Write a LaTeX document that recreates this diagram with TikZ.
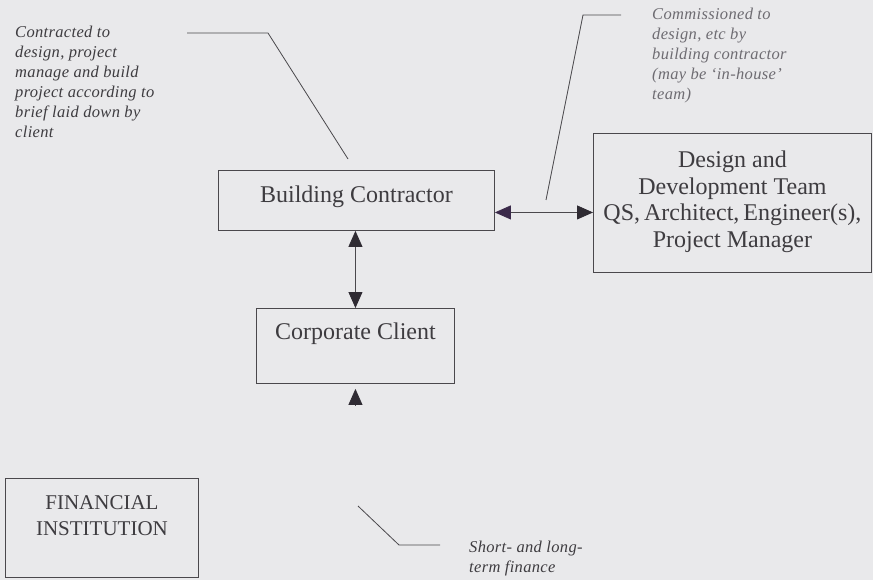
\documentclass[tikz,border=0pt]{standalone}
\usepackage{fontspec}
\setmainfont{Liberation Serif}
\newfontfamily\notefont{Liberation Serif}[LetterSpace=2]
\usetikzlibrary{arrows.meta}

\definecolor{paper}{HTML}{E9E9EB}
\definecolor{ink}{HTML}{3E3C40}
\definecolor{rule}{HTML}{4A484C}
\definecolor{soft}{HTML}{6E6C72}
\definecolor{tipdark}{HTML}{2F2B33}
\definecolor{tipviolet}{HTML}{3B2A4A}

\begin{document}
\begin{tikzpicture}[x=1pt,y=-1pt,
  box/.style={draw=rule, line width=0.9pt, inner sep=0pt, anchor=north west,
    text=ink, font=\fontsize{24}{26.7}\selectfont},
  note/.style={anchor=base west, inner sep=0pt, text=ink,
    font=\notefont\itshape\fontsize{16.5}{20}\selectfont},
  leader/.style={draw=rule, line width=0.8pt},
  link/.style={draw=rule, line width=0.8pt, {Triangle[length=16pt,width=14pt,color=#1]}-{Triangle[length=16pt,width=14pt,color=tipdark]}},
  link/.default=tipdark,
  headonly/.style={draw=rule, line width=0.8pt, -{Triangle[length=16pt,width=14pt,color=tipdark]}},
]
% page
\fill[paper] (0,0) rectangle (873,580);
\useasboundingbox (0,0) rectangle (873,580);

% boxes
\node[box, minimum width=276pt, text height=32pt, text depth=28pt] (bc) at (218,170)
  {Building Contractor};
\node[box, minimum width=278pt, text height=34pt, text depth=105pt] (ddt) at (593,133)
  {\begin{tabular}[t]{@{}c@{}}Design and\\Development Team\\QS,\,Architect,\,Engineer(s),\\Project Manager\end{tabular}};
\node[box, minimum width=198pt, text height=31pt, text depth=44pt] (cc) at (256,308)
  {Corporate Client};
\node[box, minimum width=193pt, text height=31pt, text depth=68pt,
      font=\fontsize{21}{26}\selectfont] (fi) at (5,478)
  {\begin{tabular}[t]{@{}c@{}}FINANCIAL\\INSTITUTION\end{tabular}};

% annotations
\node[note] (n1) at (15,38)
  {\begin{tabular}[t]{@{}l@{}}Contracted to\\design, project\\manage and build\\project according to\\brief laid down by\\client\end{tabular}};
\node[note, text=soft] (n2) at (652,20)
  {\begin{tabular}[t]{@{}l@{}}Commissioned to\\design, etc by\\building contractor\\(may be ‘in-house’\\team)\end{tabular}};
\node[note] (n3) at (469,552)
  {\begin{tabular}[t]{@{}l@{}}Short- and long-\\term finance\end{tabular}};

% leader lines
\coordinate (l1a) at (187,33);
\coordinate (l1b) at (268,33);
\coordinate (l1c) at (348,159);
\draw[leader] (l1a) -- (l1b) -- (l1c);

\coordinate (l2a) at (621,15);
\coordinate (l2b) at (583,15);
\coordinate (l2c) at (546,200);
\draw[leader] (l2a) -- (l2b) -- (l2c);

\coordinate (l3a) at (358,506);
\coordinate (l3b) at (399,545);
\coordinate (l3c) at (440,545);
\draw[leader] (l3a) -- (l3b) -- (l3c);

% connectors
\draw[link=tipviolet] ([yshift=-12pt]bc.east) -- ([yshift=-12pt]bc.east -| ddt.west);
\draw[link] (cc.north |- bc.south) -- (cc.north);
\coordinate (fitail) at ([yshift=-21pt]cc.south);
\draw[headonly] (fitail) -- ([yshift=-5pt]cc.south);
\end{tikzpicture}
\end{document}
